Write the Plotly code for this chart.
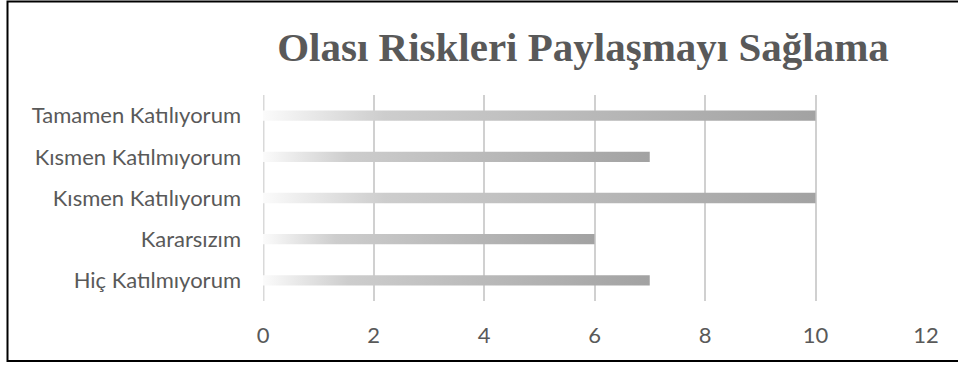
import plotly.graph_objects as go

categories = ["Hiç Katılmıyorum", "Kararsızım", "Kısmen Katılıyorum", "Kısmen Katılmıyorum", "Tamamen Katılıyorum"]
values = [7, 6, 10, 7, 10]
x_ticks = [0, 2, 4, 6, 8, 10, 12]
title_text = "Olası Riskleri Paylaşmayı Sağlama"

W, H = 958, 365
L, R, T, B = 263, W - 926, 95, H - 301
pw, ph = W - L - R, H - T - B

half = 0.125
fig = go.Figure()
for i, (c, v) in enumerate(zip(categories, values)):
    fig.add_trace(go.Scatter(
        x=[0, v, v, 0, 0],
        y=[i - half, i - half, i + half, i + half, i - half],
        mode="lines", line=dict(width=0), fill="toself",
        fillgradient=dict(type="horizontal",
                          colorscale=[[0, "#fbfbfb"], [0.22, "#cdcdcd"], [1, "#a2a2a2"]]),
        hoverinfo="skip", showlegend=False, name=c,
    ))

def px2x(p):
    return (p - L) / pw

def py2y(p):
    return 1 - (p - T) / ph

fig.update_layout(
    width=W, height=H,
    margin=dict(l=L, r=R, t=T, b=B),
    paper_bgcolor="white", plot_bgcolor="white",
    showlegend=False,
    title=dict(text="<b>" + title_text + "</b>", x=583 / W, xanchor="center",
               y=1 - 47 / H, yanchor="middle",
               font=dict(family="Liberation Serif", size=41, color="#595959")),
    xaxis=dict(range=[0, 12], tickvals=x_ticks, ticktext=[str(t) for t in x_ticks],
               showgrid=True, gridcolor="#d0d0d0", gridwidth=1.5,
               zeroline=False, showline=False, ticks="",
               tickfont=dict(family="Lato", size=22, color="#595959"),
               ticklabelstandoff=19, fixedrange=True),
    yaxis=dict(range=[-0.5, 4.5], tickvals=list(range(len(categories))), ticktext=categories,
               showgrid=False, zeroline=False, showline=False, ticks="",
               tickfont=dict(family="Lato", size=22, color="#595959"),
               ticklabelstandoff=21, fixedrange=True),
    shapes=[
        dict(type="line", xref="x", yref="paper", x0=0, x1=0, y0=0, y1=1,
             line=dict(color="#d9d9d9", width=3), layer="below"),
        dict(type="rect", xref="paper", yref="paper",
             x0=px2x(7.5), x1=px2x(970), y0=py2y(361), y1=py2y(1.5),
             line=dict(color="black", width=2), fillcolor="rgba(0,0,0,0)"),
    ],
)

fig.write_html("out.html")
